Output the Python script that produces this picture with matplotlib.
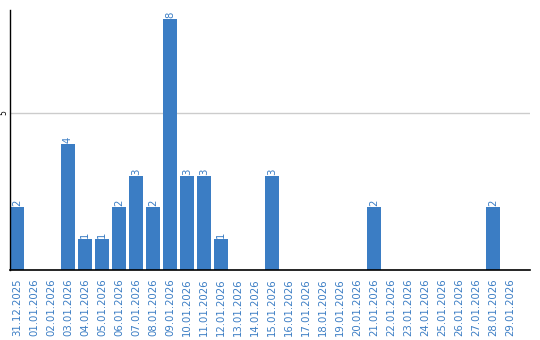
import matplotlib
matplotlib.use("Agg")
import matplotlib.pyplot as plt

categories = ["31.12.2025"] + [f"{d:02d}.01.2026" for d in range(1, 30)]
values = [2, 0, 0, 4, 1, 1, 2, 3, 2, 8, 3, 3, 1, 0, 0, 3, 0, 0, 0, 0, 0, 2, 0, 0, 0, 0, 0, 0, 2, 0]

blue = "#3b7dc4"
fig = plt.figure(figsize=(5.4, 3.4), dpi=100)
ax = fig.add_axes([10/540, 70/340, 520/540, 260/340])
x = list(range(len(categories)))
bars = ax.bar(x, values, width=0.82, color=blue, zorder=2)
for xi, v in zip(x, values):
    if v > 0:
        ax.text(xi, v + 0.03, str(v), rotation=90, ha="center", va="bottom",
                color=blue, fontsize=7.3)
ax.set_xlim(-0.41, 30.18)
ax.set_ylim(0, 8.28)
ax.set_yticks([5])
ax.set_yticklabels(["5"], rotation=90, va="center", ha="right", fontsize=5.5)
ax.tick_params(axis="y", length=0, pad=1)
ax.set_xticks(x)
ax.set_xticklabels(categories, rotation=90, color=blue, fontsize=7.3)
ax.tick_params(axis="x", length=0, pad=6)
ax.grid(axis="y", color="#cccccc", linewidth=1, zorder=0)
for s in ["top", "right"]:
    ax.spines[s].set_visible(False)
ax.spines["left"].set_color("black")
ax.spines["bottom"].set_color("black")
ax.spines["left"].set_linewidth(1)
ax.spines["bottom"].set_linewidth(1.2)
fig.savefig("out.png", dpi=100)
